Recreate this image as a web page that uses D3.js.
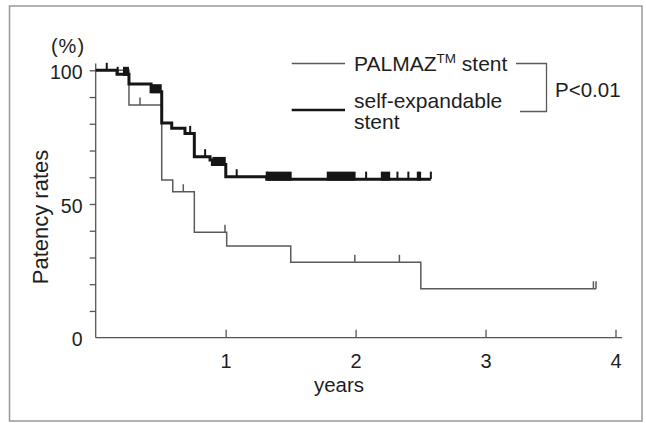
<!DOCTYPE html>
<html><head><meta charset="utf-8">
<script src="https://cdn.jsdelivr.net/npm/d3@7"></script>
<style>
html,body{margin:0;padding:0;background:#fff;}
svg{display:block;font-family:"Liberation Sans",Arial,Helvetica,sans-serif;}
</style></head>
<body>
<svg id="chart" width="646" height="423"></svg>
<script>
// ---- data ----
const xTicks = [1, 2, 3, 4];
const yLabelTicks = [0, 50, 100];
const yMinorTicks = [10, 20, 30, 40, 50, 60, 70, 80, 90, 100];

const palmazTimes = [0, 0.256, 0.508, 0.593, 0.759, 1.008, 1.501, 2.502, 3.85];
const palmazRates = [100, 87.0, 59.0, 54.6, 39.4, 34.3, 28.2, 18.3, 18.3];
const palmazCensored = [0.341, 0.674, 0.995, 1.994, 2.337, 3.83, 3.85];

const selfTimes = [0, 0.164, 0.256, 0.426, 0.508, 0.585, 0.687, 0.759, 0.880, 0.898, 1.001, 1.316, 2.579];
const selfRates = [100, 98.5, 94.9, 92.0, 80.3, 78.3, 76.4, 67.7, 66.5, 64.8, 60.2, 59.3, 59.3];
const selfCensored = [0.085, 0.169, 0.727, 0.842, 1.085, 1.316, 2.081, 2.322, 2.406, 2.579];
const selfCensorBlocksStart = [0.21, 0.426, 0.898, 1.316, 1.778, 2.194, 2.471];
const selfCensorBlocksEnd   = [0.256, 0.508, 1.001, 1.508, 2.0, 2.266, 2.504];

const legendLabels = ["PALMAZ", "self-expandable", "stent"];
const pText = "P<0.01";

// ---- drawing ----
const svg = d3.select("#chart");
const x = d3.scaleLinear().domain([0, 4]).range([95.7, 615.5]);
const y = d3.scaleLinear().domain([0, 100]).range([337.7, 70.3]);

const axisColor = "#555";
const textColor = "#1e1e1e";

// frame
svg.append("rect").attr("x", 9.5).attr("y", 6).attr("width", 632.5).attr("height", 415)
  .attr("fill", "none").attr("stroke", "#999").attr("stroke-width", 1.5);

// x axis
const xAxis = d3.axisBottom(x).tickValues(xTicks).tickSize(-8).tickFormat(d3.format("d")).tickPadding(16);
const gx = svg.append("g").attr("transform", `translate(0,${y(0)})`).call(xAxis);
gx.select(".domain").attr("d", `M${x(0)},0H${x(4.05)}`).attr("stroke", axisColor).attr("stroke-width", 1.3);
gx.selectAll(".tick line").attr("stroke", axisColor).attr("stroke-width", 1.3);
gx.selectAll(".tick text").attr("font-size", 20).attr("fill", textColor).attr("font-family", "Liberation Sans, Arial, sans-serif");

// y axis
const yAxis = d3.axisLeft(y).tickValues(yMinorTicks).tickSize(6).tickFormat("");
const gy = svg.append("g").attr("transform", `translate(${x(0)},0)`).call(yAxis);
gy.select(".domain").attr("d", `M0,${y(0)}V${y(102.5)}`).attr("stroke", axisColor).attr("stroke-width", 1.3);
gy.selectAll(".tick line").attr("stroke", axisColor).attr("stroke-width", 1.3);

svg.append("g").selectAll("text").data(yLabelTicks).join("text")
  .attr("x", 82.5).attr("y", d => y(d) + 8.5)
  .attr("text-anchor", "end").attr("font-size", 19.5).attr("fill", textColor).text(d => d);

// axis titles
svg.append("text").attr("x", 339).attr("y", 392).attr("text-anchor", "middle")
  .attr("font-size", 20.5).attr("fill", textColor).text("years");
svg.append("text").attr("transform", "translate(48,217) rotate(-90)").attr("text-anchor", "middle")
  .attr("font-size", 22).attr("fill", textColor).text("Patency rates");
svg.append("text").attr("x", 68).attr("y", 53).attr("text-anchor", "middle")
  .attr("font-size", 20).attr("letter-spacing", 1).attr("fill", textColor).text("(%)");

// step curves
const stepLine = d3.line().x(d => x(d[0])).y(d => y(d[1])).curve(d3.curveStepAfter);
const palmazPts = palmazTimes.map((t, i) => [t, palmazRates[i]]);
const selfPts = selfTimes.map((t, i) => [t, selfRates[i]]);

function valueAt(times, rates, t) {
  const i = d3.bisectRight(times, t + 1e-9) - 1;
  return rates[Math.max(0, i)];
}

svg.append("path").attr("d", stepLine(palmazPts)).attr("fill", "none")
  .attr("stroke", "#5a5a5a").attr("stroke-width", 1.5);

const tickH = 7.5;
svg.append("g").selectAll("line").data(palmazCensored).join("line")
  .attr("x1", d => x(d)).attr("x2", d => x(d))
  .attr("y1", d => y(valueAt(palmazTimes, palmazRates, d)))
  .attr("y2", d => y(valueAt(palmazTimes, palmazRates, d)) - tickH)
  .attr("stroke", "#5a5a5a").attr("stroke-width", 1.5);

svg.append("path").attr("d", stepLine(selfPts)).attr("fill", "none")
  .attr("stroke", "#151515").attr("stroke-width", 3);

svg.append("g").selectAll("line").data(selfCensored).join("line")
  .attr("x1", d => x(d)).attr("x2", d => x(d))
  .attr("y1", d => y(valueAt(selfTimes, selfRates, d)))
  .attr("y2", d => y(valueAt(selfTimes, selfRates, d)) - tickH)
  .attr("stroke", "#151515").attr("stroke-width", 2);

svg.append("g").selectAll("rect").data(selfCensorBlocksStart).join("rect")
  .attr("x", d => x(d))
  .attr("width", (d, i) => x(selfCensorBlocksEnd[i]) - x(d))
  .attr("y", d => y(valueAt(selfTimes, selfRates, d)) - tickH)
  .attr("height", tickH + 1.5)
  .attr("fill", "#151515");

// legend
svg.append("line").attr("x1", 291.7).attr("x2", 345).attr("y1", 63.5).attr("y2", 63.5)
  .attr("stroke", "#5a5a5a").attr("stroke-width", 1.3);
svg.append("line").attr("x1", 291.7).attr("x2", 345).attr("y1", 110).attr("y2", 110)
  .attr("stroke", "#151515").attr("stroke-width", 2.5);

const t1 = svg.append("text").attr("x", 354).attr("y", 71).attr("font-size", 21).attr("fill", textColor);
t1.append("tspan").text(legendLabels[0]);
t1.append("tspan").attr("font-size", 13.5).attr("dy", -8).text("TM");
t1.append("tspan").attr("dy", 8).text(" stent");
svg.append("text").attr("x", 354).attr("y", 107.5).attr("font-size", 21).attr("fill", textColor).text(legendLabels[1]);
svg.append("text").attr("x", 354).attr("y", 128.5).attr("font-size", 21).attr("fill", textColor).text(legendLabels[2]);

svg.append("path").attr("d", "M516,63.5H546.5V111.5H520").attr("fill", "none")
  .attr("stroke", "#5a5a5a").attr("stroke-width", 1.3);
svg.append("text").attr("x", 555).attr("y", 96.5).attr("font-size", 20.5).attr("fill", textColor).text(pText);
</script>
</body></html>
